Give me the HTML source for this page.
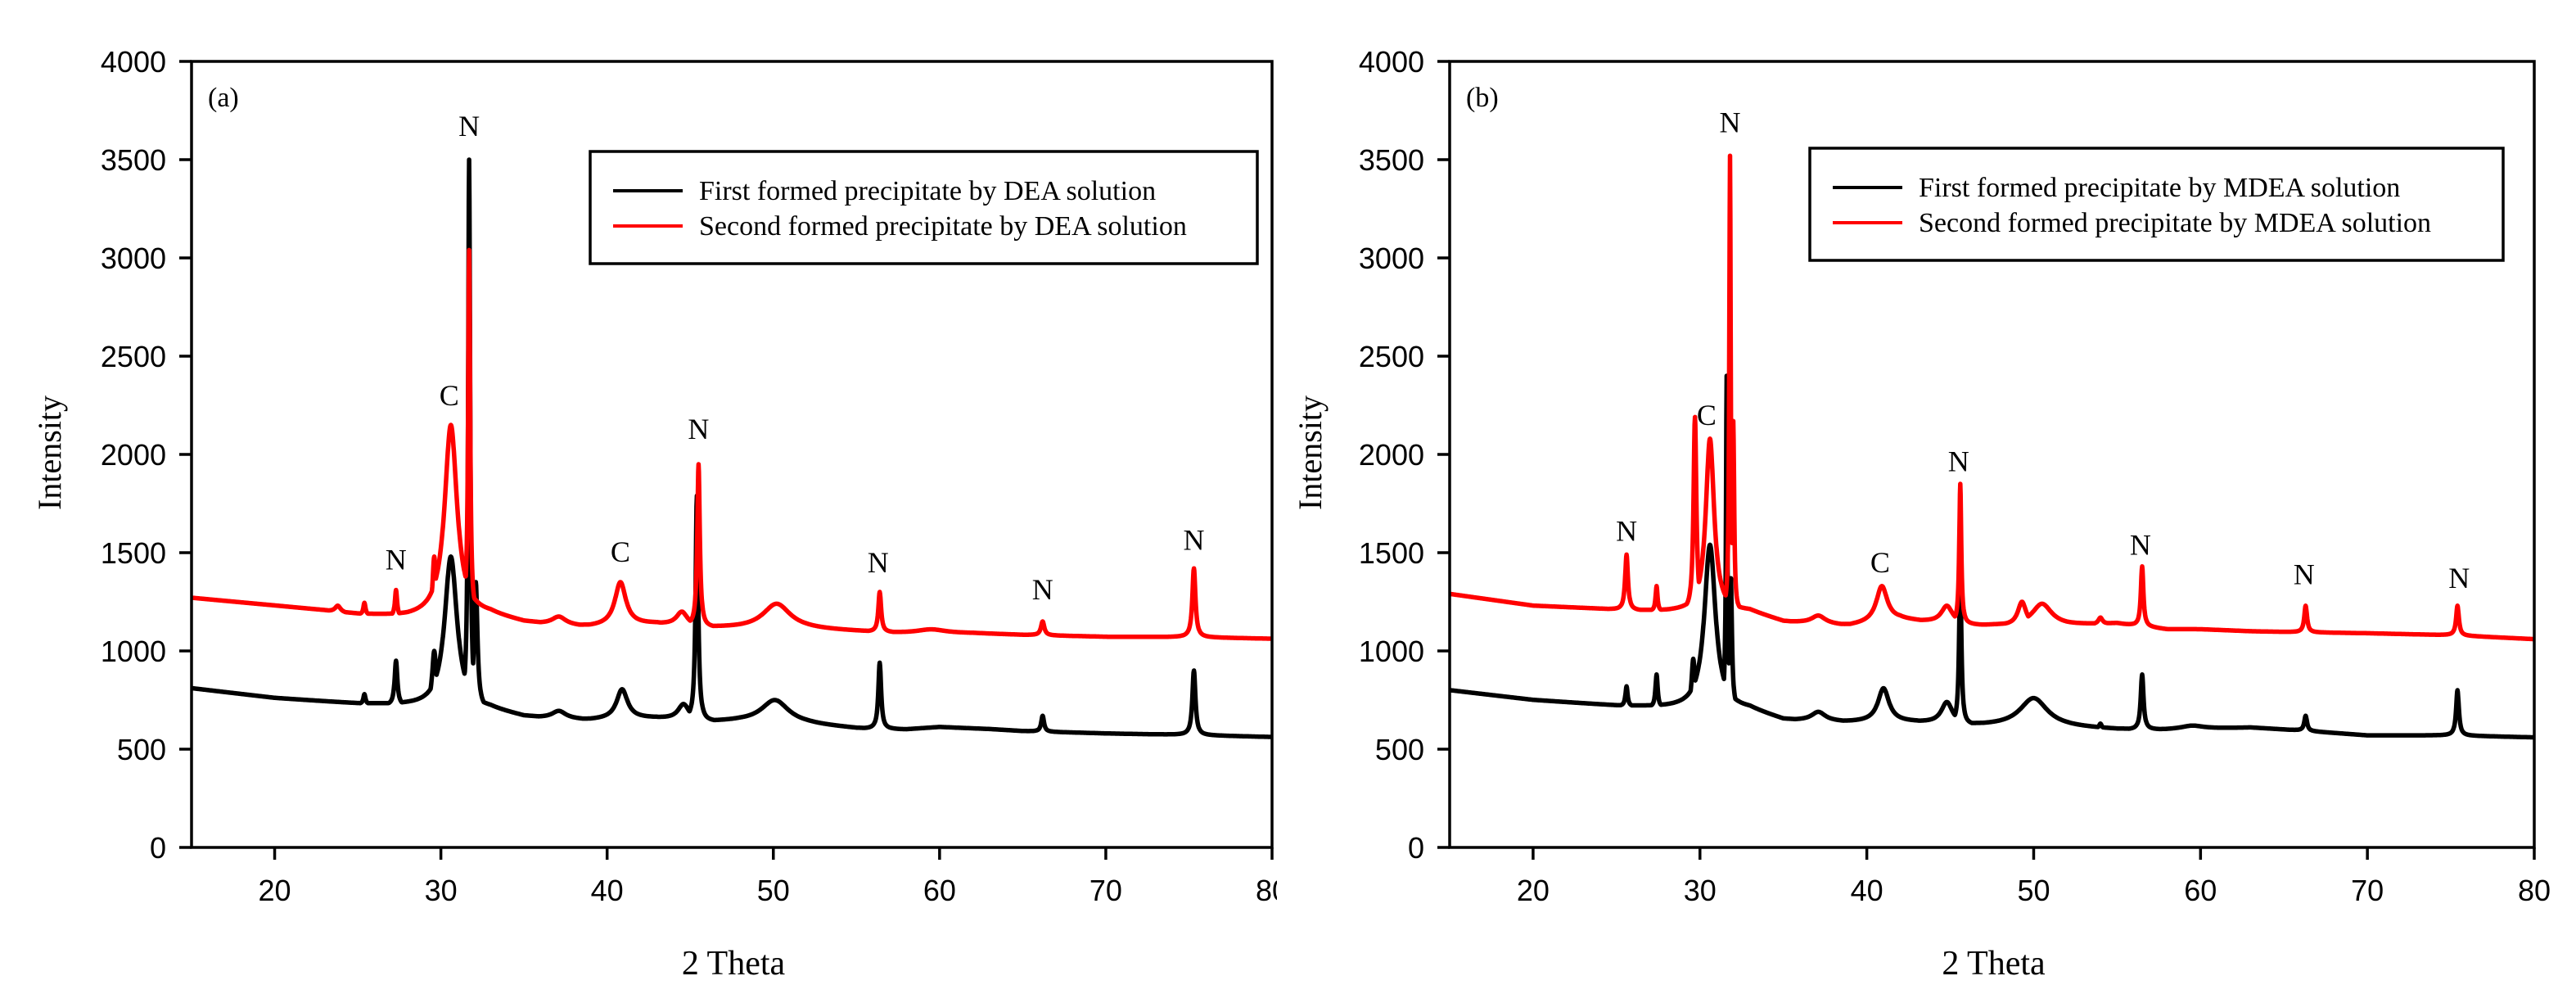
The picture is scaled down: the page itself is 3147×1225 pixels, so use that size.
<!DOCTYPE html>
<html><head><meta charset="utf-8"><style>
html,body{margin:0;padding:0;background:#fff;}
svg{display:block;}
.tick{font-family:"Liberation Sans",Arial,sans-serif;font-size:36px;fill:#000;}
.serif{font-family:"Liberation Serif","Times New Roman",serif;fill:#000;}
</style></head><body>
<svg id="fig" width="3147" height="1225" viewBox="0 0 3147 1225" xmlns="http://www.w3.org/2000/svg">
<defs>
<clipPath id="clipA"><rect x="0" y="0" width="1560" height="1225"/></clipPath>
</defs>
<g id="panelA" clip-path="url(#clipA)"></g>
<g id="panelB"></g>
</svg>
<script>
// ---------- shared axis data ----------
const yTicks = [0,500,1000,1500,2000,2500,3000,3500,4000];
const xTicks = [20,30,40,50,60,70,80];

// ---------- Panel A (DEA) ----------
const a1BaseX = [15,20,25,28,33,35,39,43,46,48,52,55,58,60,63,65,70,75,80];
const a1BaseY = [810,760,730,720,700,665,650,660,640,640,625,605,600,612,602,592,580,572,562];
const a1PeakPos = [25.4,27.3,29.6,30.6,31.7,32.1,37.1,40.9,44.6,45.4,50.1,56.4,66.2,75.3];
const a1PeakH   = [780,950,1000,1480,3500,1350,695,805,730,1790,750,940,670,900];
const a1PeakW   = [0.08,0.1,0.15,0.45,0.07,0.12,0.5,0.4,0.4,0.09,1.0,0.1,0.1,0.11];

const a2BaseX = [15,20,23,25,28,33,35,39,43,46,48,52,55,58,62,65,70,75,80];
const a2BaseY = [1270,1230,1205,1185,1170,1180,1145,1125,1140,1120,1115,1110,1100,1092,1090,1082,1072,1070,1062];
const a2PeakPos = [23.8,25.4,27.3,29.6,30.6,31.7,37.1,40.8,44.5,45.5,50.2,56.4,59.5,66.2,75.3];
const a2PeakH   = [1230,1245,1310,1480,2150,3040,1175,1350,1200,1950,1240,1300,1110,1150,1420];
const a2PeakW   = [0.2,0.08,0.08,0.12,0.45,0.07,0.5,0.4,0.4,0.09,1.0,0.1,1.0,0.12,0.11];

// ---------- Panel B (MDEA) ----------
const b1BaseX = [15,20,25,28,33,35,39,43,47,52,55,58,63,66,70,75,80];
const b1BaseY = [800,750,720,710,700,650,640,640,620,610,600,600,610,595,570,570,560];
const b1PeakPos = [25.6,27.4,29.6,30.6,31.6,31.85,37.1,41.0,44.8,45.6,50.0,54.0,56.5,59.5,66.3,75.4];
const b1PeakH   = [820,880,960,1540,2400,1380,690,810,740,1400,760,630,880,620,670,800];
const b1PeakW   = [0.08,0.08,0.12,0.4,0.05,0.08,0.5,0.4,0.4,0.08,1.0,0.1,0.1,0.8,0.1,0.1];

const b2BaseX = [15,20,25,28,33,35,39,42,47,52,55,58,60,63,66,70,75,80];
const b2BaseY = [1290,1230,1210,1200,1200,1150,1130,1160,1130,1130,1140,1110,1110,1100,1095,1090,1080,1060];
const b2PeakPos = [25.6,27.4,29.7,30.6,31.8,32.0,37.1,40.9,44.8,45.6,49.3,50.5,54.0,56.5,66.3,75.4];
const b2PeakH   = [1490,1330,2190,2080,3520,2170,1180,1330,1230,1850,1250,1240,1170,1430,1230,1230];
const b2PeakW   = [0.1,0.07,0.1,0.3,0.05,0.06,0.5,0.4,0.4,0.07,0.3,0.7,0.15,0.09,0.1,0.1];

// ---------- annotations ----------
const aLabels = ["N","C","N","C","N","N","N","N"];
const aLabelX = [31.7,30.5,27.3,40.8,45.5,56.3,66.2,75.3];
const aLabelY = [3620,2250,1415,1455,2080,1400,1262,1515];
const bLabels = ["N","C","N","C","N","N","N","N"];
const bLabelX = [31.8,30.4,25.6,40.8,45.5,56.4,66.2,75.5];
const bLabelY = [3640,2150,1560,1400,1915,1490,1340,1320];

const NS = "http://www.w3.org/2000/svg";
function mk(tag, attrs, parent){const e=document.createElementNS(NS,tag);for(const k in attrs)e.setAttribute(k,attrs[k]);parent.appendChild(e);return e;}

function interp(xs, ys, v){
  if(v<=xs[0]) return ys[0];
  for(let i=1;i<xs.length;i++){ if(v<=xs[i]){const t=(v-xs[i-1])/(xs[i]-xs[i-1]);return ys[i-1]+t*(ys[i]-ys[i-1]);} }
  return ys[ys.length-1];
}
function profile(bx,by,pp,ph,pw,v){
  const base=interp(bx,by,v);
  let m=0;
  for(let i=0;i<pp.length;i++){
    const amp=ph[i]-interp(bx,by,pp[i]);
    const d=(v-pp[i])/pw[i];
    const c=amp/(1+d*d);
    if(c>m) m=c;
  }
  return base+m;
}

function drawPanel(g, L, R, tag, legendBox, legendTexts, series, labels, lx, ly, intensityX){
  const T=75, B=1035;
  const X=v=>L+(v-15)/65*(R-L);
  const Y=v=>B-v*(B-T)/4000;
  series.forEach(s=>{
    let d="";
    for(let v=15; v<=80.0001; v+=0.02){
      const yv=profile(s.bx,s.by,s.pp,s.ph,s.pw,v);
      d+=(d?"L":"M")+X(v).toFixed(1)+" "+Y(yv).toFixed(1);
    }
    const p=mk("path",{d:d,fill:"none",stroke:s.color,"stroke-width":5.5,"stroke-linejoin":"round"},g);
    
    
  });
  const f=mk("rect",{x:L,y:T,width:R-L,height:B-T,fill:"none",stroke:"#000","stroke-width":3.5},g);
  
  
  yTicks.forEach(t=>{
    const ln=mk("line",{x1:L-15,x2:L,y1:Y(t),y2:Y(t),stroke:"#000","stroke-width":3.5},g);
    
    
    const tx=mk("text",{x:L-31,y:Y(t)+13,"text-anchor":"end",class:"tick"},g);
    tx.textContent=t;
    
    
  });
  xTicks.forEach(t=>{
    const ln=mk("line",{x1:X(t),x2:X(t),y1:B,y2:B+15,stroke:"#000","stroke-width":3.5},g);
    
    
    const tx=mk("text",{x:X(t),y:B+65,"text-anchor":"middle",class:"tick"},g);
    tx.textContent=t;
    
    
  });
  const xt=mk("text",{x:(L+R)/2+2,y:1190,"text-anchor":"middle",class:"serif","font-size":42},g);
  xt.textContent="2 Theta";
  
  
  const yt=mk("text",{x:0,y:0,"text-anchor":"middle",class:"serif","font-size":40,transform:`translate(${intensityX+13},553) rotate(-90)`},g);
  yt.textContent="Intensity";
  
  
  const pt=mk("text",{x:L+20,y:130,class:"serif","font-size":34},g);
  pt.textContent=tag;
  
  
  labels.forEach((lb,i)=>{
    const t=mk("text",{x:X(lx[i]),y:Y(ly[i]),"text-anchor":"middle",class:"serif","font-size":36},g);
    t.textContent=lb;
    
    
  });
  const lg=mk("g",{},g);
  
  
  mk("rect",{x:legendBox[0],y:legendBox[1],width:legendBox[2],height:legendBox[3],fill:"#fff",stroke:"#000","stroke-width":3.5},lg);
  const cols=["#000","#ff0000"];
  legendTexts.forEach((txt,i)=>{
    const ry=legendBox[1]+48+i*43;
    const e=mk("g",{},lg);
    
    
    mk("line",{x1:legendBox[0]+28,x2:legendBox[0]+113,y1:ry,y2:ry,stroke:cols[i],"stroke-width":4},e);
    const t=mk("text",{x:legendBox[0]+133,y:ry+11,class:"serif","font-size":34},e);
    t.textContent=txt;
  });
}

drawPanel(document.getElementById("panelA"),234,1554,"(a)",[721,185,815,137],
  ["First formed precipitate by DEA solution","Second formed precipitate by DEA solution"],
  [{name:"first-dea-series",color:"#000",bx:a1BaseX,by:a1BaseY,pp:a1PeakPos,ph:a1PeakH,pw:a1PeakW},
   {name:"second-dea-series",color:"#ff0000",bx:a2BaseX,by:a2BaseY,pp:a2PeakPos,ph:a2PeakH,pw:a2PeakW}],
  aLabels,aLabelX,aLabelY,61);
drawPanel(document.getElementById("panelB"),1771,3096,"(b)",[2211,181,847,137],
  ["First formed precipitate by MDEA solution","Second formed precipitate by MDEA solution"],
  [{name:"first-mdea-series",color:"#000",bx:b1BaseX,by:b1BaseY,pp:b1PeakPos,ph:b1PeakH,pw:b1PeakW},
   {name:"second-mdea-series",color:"#ff0000",bx:b2BaseX,by:b2BaseY,pp:b2PeakPos,ph:b2PeakH,pw:b2PeakW}],
  bLabels,bLabelX,bLabelY,1601);
</script>
</body></html>
